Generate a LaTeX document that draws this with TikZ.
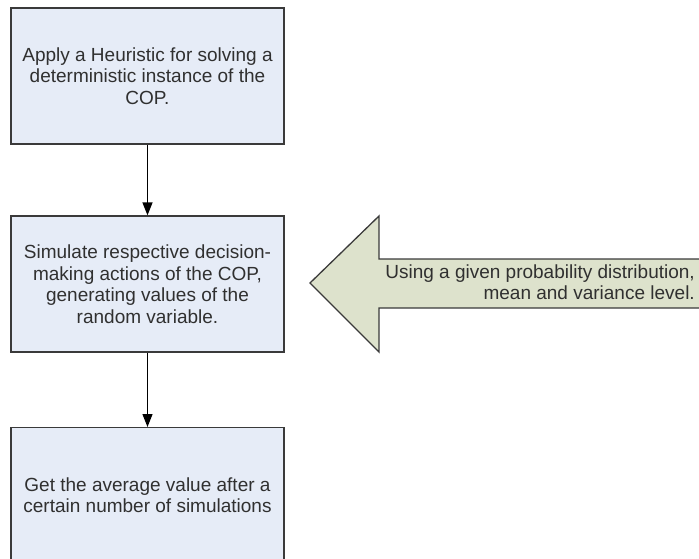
\documentclass[tikz,border=0pt]{standalone}
\usepackage{fontspec}
\setmainfont{Liberation Sans}
\usetikzlibrary{arrows.meta}
\definecolor{boxfill}{HTML}{E6ECF7}
\definecolor{arrowfill}{HTML}{DDE2CC}
\definecolor{edge}{HTML}{3A3A3A}
\definecolor{ink}{HTML}{303030}
\begin{document}
\begin{tikzpicture}[x=1pt,y=-1pt,
  label font/.style={font=\fontsize{19}{21.5}\selectfont,text=ink},
  stepbox/.style={draw=edge,line width=1.3pt,fill=boxfill,minimum width=273pt,
    align=center,inner sep=0pt,label font},
  flow/.style={draw=black,line width=1.3pt,-{Triangle[length=13pt,width=10pt]}}]
\useasboundingbox (0,0) rectangle (699,559);
\begin{scope}
\clip (0,0) rectangle (699,559);
% process boxes
\node[stepbox,minimum height=136pt] (heur) at (147.5,76)
  {Apply a Heuristic for solving a\\deterministic instance of the\\COP.};
\node[stepbox,minimum height=136pt] (sim) at (147.5,284)
  {Simulate respective decision-\\making actions of the COP,\\generating values of the\\random variable.};
\node[stepbox,minimum height=160pt,anchor=north] (avg) at (147.5,427) {};
\node[label font,align=center,inner sep=0pt] (avgtxt) at (147.5,495)
  {Get the average value after a\\certain number of simulations};
% input block arrow
\draw[draw=edge,line width=1.3pt,fill=arrowfill]
  (310,283) -- (379,216) -- (379,259) -- (720,259) -- (720,308) -- (379,308) -- (379,352) -- cycle;
\node[anchor=east,align=right,label font,inner sep=0pt] (input) at (695,282)
  {Using a given probability distribution,\\mean and variance level.};
\end{scope}
% connectors
\draw[flow] (heur.south) -- (sim.north);
\draw[flow] (sim.south) -- (avg.north);
\end{tikzpicture}
\end{document}
